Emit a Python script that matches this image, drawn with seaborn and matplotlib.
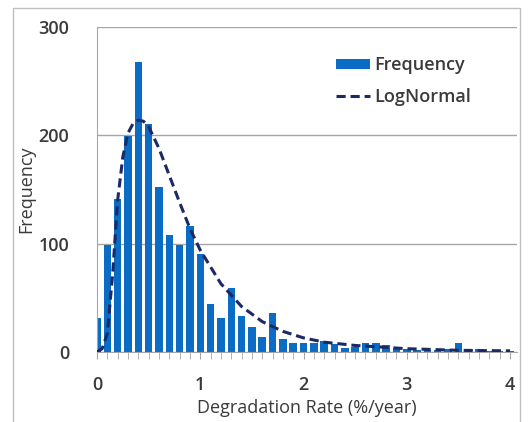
import numpy as np
import pandas as pd
import seaborn as sb
from matplotlib import pyplot as plt
from matplotlib.patches import Rectangle
from matplotlib.ticker import MultipleLocator

# histogram bins (centres, %/year) and counts
bin_centers = [round(0.1 * i, 1) for i in range(41)]
counts = [31, 99, 141, 199, 268, 210, 152, 108, 99, 116,
          90, 44, 31, 59, 33, 23, 14, 36, 12, 8,
          8, 8, 10, 7, 4, 5, 8, 8, 6, 4,
          3, 2, 2, 2, 3, 8, 2, 3, 1, 1, 1]

# fitted log-normal curve
fit_x = [0, 0.05, 0.1, 0.15, 0.2, 0.25, 0.3, 0.35, 0.4, 0.45, 0.5, 0.6, 0.7,
         0.8, 0.9, 1.0, 1.2, 1.4, 1.6, 1.8, 2.0, 2.2, 2.5, 3.0, 3.5, 4.0]
fit_y = [0, 3, 17, 70, 140, 180, 202, 211, 214, 213, 208, 188, 163,
         138, 114, 94, 63, 42, 28, 19, 13, 9, 6, 3, 1.5, 1]

TEXT = "#3A3A3A"

sb.set_style("white")
plt.rcParams['font.family'] = ['Open Sans', 'DejaVu Sans']
plt.rcParams['text.color'] = TEXT
plt.rcParams['axes.labelcolor'] = TEXT
plt.rcParams['xtick.color'] = TEXT
plt.rcParams['ytick.color'] = TEXT

fig = plt.figure(figsize=(5.3, 4.22), dpi=100)
ax = fig.add_axes([0.183, 0.166, 0.793, 0.77])

hist_df = pd.DataFrame({"rate": bin_centers, "count": counts})
sb.histplot(data=hist_df, x="rate", weights="count", binwidth=0.1,
            binrange=(-0.05, 4.05), shrink=0.72, color="#0A6CC4",
            alpha=1, edgecolor="none", label="Frequency", ax=ax, zorder=2)

fit_df = pd.DataFrame({"rate": fit_x, "fit": fit_y})
sb.lineplot(data=fit_df, x="rate", y="fit", color="#1B2A66", lw=2.2,
            linestyle=(0, (3, 1.6)), label="LogNormal", ax=ax, zorder=3)

ax.set_xlim(0, 4.07)
ax.set_ylim(0, 300)
ax.set_yticks([0, 100, 200, 300])
ax.set_xticks([0, 1, 2, 3, 4])
ax.xaxis.set_minor_locator(MultipleLocator(0.1))
ax.yaxis.grid(True, color="#A6A6A6", lw=1)
ax.set_axisbelow(True)
for side in ["top", "right"]:
    ax.spines[side].set_visible(False)
ax.spines["left"].set_color("#A6A6A6")
ax.spines["bottom"].set_color("#A6A6A6")
ax.tick_params(axis="x", which="both", direction="out", length=5,
               color="#A6A6A6", bottom=True, labelsize=13, pad=12)
ax.tick_params(axis="y", length=0, labelsize=13, pad=20)
for lbl in ax.get_xticklabels() + ax.get_yticklabels():
    lbl.set_fontweight("semibold")

ax.set_xlabel("Degradation Rate (%/year)", fontsize=13, labelpad=4)
ax.set_ylabel("Frequency", fontsize=13, labelpad=2)

handles, labels = ax.get_legend_handles_labels()
order = [labels.index("Frequency"), labels.index("LogNormal")]
leg = ax.legend([handles[i] for i in order], [labels[i] for i in order],
                loc="upper left", bbox_to_anchor=(0.53, 0.96), frameon=False,
                fontsize=13, handlelength=1.9, handletextpad=0.2,
                labelspacing=0.75, handleheight=0.5)
for t in leg.get_texts():
    t.set_fontweight("semibold")

fig.patches.append(Rectangle((0.024, -0.01), 0.958, 0.99, transform=fig.transFigure,
                             fill=False, edgecolor="#BFBFBF", lw=1))

plt.savefig("out.png", dpi=100)
